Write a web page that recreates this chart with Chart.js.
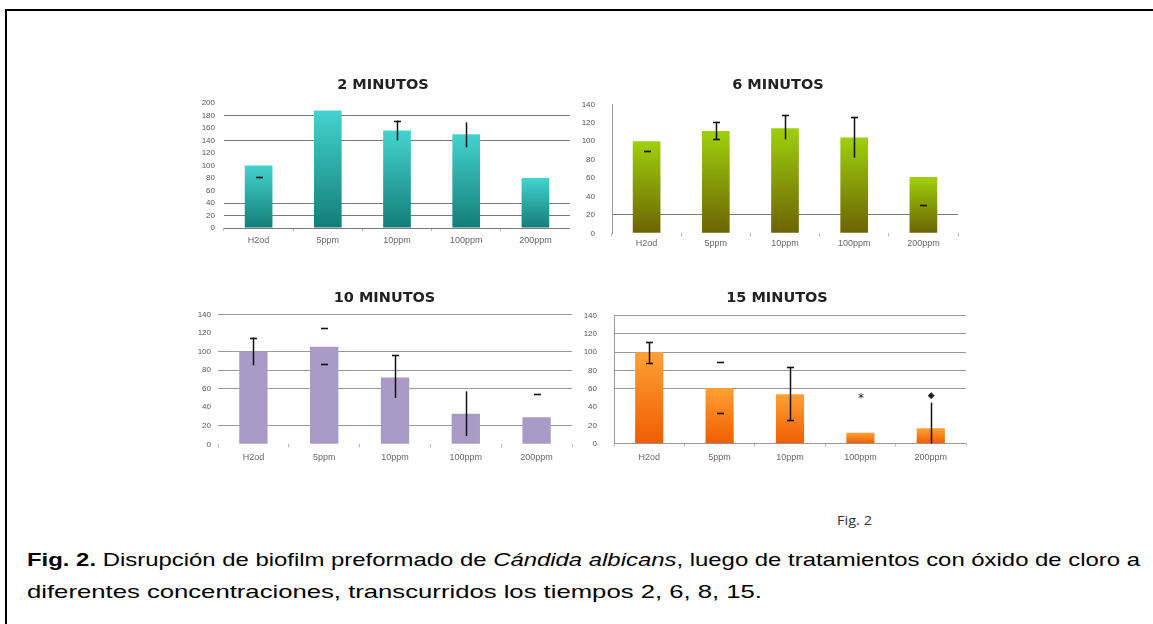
<!DOCTYPE html>
<html><head><meta charset="utf-8">
<script src="https://cdn.jsdelivr.net/npm/chart.js@4.4.1/dist/chart.umd.min.js"></script>
<style>
html,body{margin:0;padding:0;background:#fff;width:1153px;height:624px;overflow:hidden;position:relative;}
.frame{position:absolute;left:5px;top:9px;width:1150px;height:620px;border-top:2px solid #000;border-left:2px solid #000;}
canvas{position:absolute;}
#figlabel{position:absolute;left:837px;top:511px;font:13px 'Open Sans',sans-serif;color:#333;transform-origin:0 0;transform:scaleX(1.12);}
.cap{position:absolute;left:27px;transform-origin:0 0;font-family:'Liberation Sans',Arial,sans-serif;font-size:18.5px;line-height:32px;color:#000;white-space:nowrap;}
#line1{top:544px;}
#line2{top:576px;}
</style></head>
<body>
<div class="frame"></div>
<canvas id="c1" width="385" height="185" style="left:185px;top:70px"></canvas>
<canvas id="c2" width="406" height="190" style="left:570px;top:70px"></canvas>
<canvas id="c3" width="415" height="185" style="left:165px;top:285px"></canvas>
<canvas id="c4" width="405" height="185" style="left:580px;top:285px"></canvas>
<div id="figlabel">Fig. 2</div>
<div class="cap" id="line1"><b>Fig. 2.</b> Disrupción de biofilm preformado de <i>Cándida albicans</i>, luego de tratamientos con óxido de cloro a</div>
<div class="cap" id="line2">diferentes concentraciones, transcurridos los tiempos 2, 6, 8, 15.</div>
<script>
// ---------- DATA ----------
const categories = ['H2od', '5ppm', '10ppm', '100ppm', '200ppm'];
const titles = ['2 MINUTOS', '6 MINUTOS', '10 MINUTOS', '15 MINUTOS'];

const values2 = [100, 188, 156, 150, 80];
const errLow2 = [null, null, 140, 129, null];
const errHigh2 = [null, null, 172, 169, null];
const caps2 = [[82], [], [172], [], []];
const yTicks2 = [0, 20, 40, 60, 80, 100, 120, 140, 160, 180, 200];
const gridShown2 = [0, 20, 40, 140, 180];

const values6 = [100, 111, 114, 104, 61];
const errLow6 = [null, 102, 102, 82, null];
const errHigh6 = [null, 121, 128, 126, null];
const caps6 = [[89], [121, 102], [128], [126], [31]];
const yTicks6 = [0, 20, 40, 60, 80, 100, 120, 140];
const gridShown6 = [20];

const values10 = [100, 105, 72, 33, 29];
const errLow10 = [85, null, 50, 9, null];
const errHigh10 = [115, null, 96, 57, null];
const caps10 = [[115], [125, 86], [96], [], [54]];
const yTicks10 = [0, 20, 40, 60, 80, 100, 120, 140];
const gridShown10 = [20, 60, 80, 100, 140];

const values15 = [100, 61, 54, 12, 17];
const errLow15 = [88, null, 26, null, 0];
const errHigh15 = [111, null, 84, null, 45];
const caps15 = [[111, 88], [89, 34], [84, 26], [], []];
const markText15 = ['', '', '', '*', '◆'];
const markValue15 = [null, null, null, 51, 53];
const yTicks15 = [0, 20, 40, 60, 80, 100, 120, 140];
const gridShown15 = [0, 60, 80, 100, 120, 140];

// ---------- PLUGIN: error bars / marks ----------
const errPlugin = {
  id: 'errs',
  afterDatasetsDraw(chart, args, o) {
    const ctx = chart.ctx, xs = chart.scales.x, ys = chart.scales.y;
    ctx.save();
    ctx.strokeStyle = '#111';
    ctx.lineWidth = 1.5;
    (o.low || []).forEach((lo, i) => {
      const hi = o.high[i];
      if (lo == null || hi == null) return;
      const px = Math.round(xs.getPixelForValue(i)) + 0.5;
      ctx.beginPath();
      ctx.moveTo(px, ys.getPixelForValue(lo));
      ctx.lineTo(px, ys.getPixelForValue(hi));
      ctx.stroke();
    });
    ctx.lineWidth = 1.6;
    (o.caps || []).forEach((arr, i) => {
      const px = Math.round(xs.getPixelForValue(i)) + 0.5;
      arr.forEach(v => {
        const py = Math.round(ys.getPixelForValue(v)) + 0.5;
        ctx.beginPath();
        ctx.moveTo(px - 3.5, py);
        ctx.lineTo(px + 3.5, py);
        ctx.stroke();
      });
    });
    if (o.markText) {
      ctx.fillStyle = '#222';
      ctx.textAlign = 'center';
      ctx.textBaseline = 'middle';
      o.markText.forEach((t, i) => {
        if (!t) return;
        ctx.font = (t === '*' ? '12px' : '9px') + " 'DejaVu Sans'";
        ctx.fillText(t, xs.getPixelForValue(i) + 0.5, ys.getPixelForValue(o.markValue[i]) + (t === '*' ? 2 : 0));
      });
    }
    ctx.restore();
  }
};

function barGrad(topC, botC) {
  return (c) => {
    const ch = c.chart;
    if (c.type !== 'data' || !ch.chartArea || !ch.scales.y) return topC;
    const y = ch.scales.y;
    const y0 = y.getPixelForValue(0), y1 = y.getPixelForValue(c.raw);
    const g = ch.ctx.createLinearGradient(0, y1, 0, y0);
    g.addColorStop(0, topC);
    g.addColorStop(1, botC);
    return g;
  };
}

function makeChart(id, p) {
  const scales = {
    x: {
      grid: { display: true, drawOnChartArea: false, offset: true, tickLength: 3, color: '#bbb' },
      border: { display: false },
      ticks: { color: '#666', padding: p.xPad, font: { family: "'Liberation Sans'", size: 9 }, maxRotation: 0, autoSkip: false },
      afterFit: s => { s.height = p.xH; }
    },
    y: {
      min: 0, max: p.yTicks[p.yTicks.length - 1],
      afterBuildTicks: s => { s.ticks = p.yTicks.map(v => ({ value: v })); },
      grid: { drawTicks: false, color: c => (c.tick && p.gridShown.includes(c.tick.value)) ? p.gridColor : 'rgba(0,0,0,0)' },
      border: { display: p.yBorder, color: '#999' },
      ticks: { color: '#555', padding: p.yPad, autoSkip: false, font: { family: "'Liberation Sans'", size: 8 } },
      afterFit: s => { s.width = p.yW; }
    }
  };
  if (p.rightW) {
    scales.spacer = {
      type: 'linear', position: 'right', display: true,
      grid: { display: false }, border: { display: false }, ticks: { display: false },
      afterFit: s => { s.width = p.rightW; }
    };
  }
  return new Chart(document.getElementById(id), {
    type: 'bar',
    data: {
      labels: categories,
      datasets: [{ data: p.values, backgroundColor: p.color, borderWidth: 0,
        barPercentage: 0.4, categoryPercentage: 1 }]
    },
    options: {
      responsive: false, animation: false, devicePixelRatio: 1,
      layout: { padding: { left: p.padL, right: p.padR, top: 0, bottom: 0 } },
      plugins: {
        legend: { display: false }, tooltip: { enabled: false },
        title: { display: true, text: p.title, color: '#222',
          font: { family: "'DejaVu Sans'", size: 14.5, weight: 'bold', lineHeight: 1.2 },
          padding: { top: p.tTop, bottom: p.tBot } },
        errs: p.err
      },
      scales: scales
    },
    plugins: [errPlugin]
  });
}

makeChart('c1', { title: titles[0], values: values2, color: barGrad('#44d3cf', '#137d77'),
  padL: 11, padR: 0, tTop: 6.3, tBot: 9.3, xPad: 4, xH: 27, yW: 28, yPad: 9,
  yTicks: yTicks2, gridShown: gridShown2, gridColor: '#7a7a7a', yBorder: false,
  err: { low: errLow2, high: errHigh2, caps: caps2 } });

makeChart('c2', { title: titles[1], values: values6, color: barGrad('#9fd00c', '#6b6304'),
  padL: 11, padR: 1, rightW: 17, tTop: 6.3, tBot: 10.6, xPad: 2, xH: 26.7, yW: 31, yPad: 17,
  yTicks: yTicks6, gridShown: gridShown6, gridColor: '#7a7a7a', yBorder: true,
  err: { low: errLow6, high: errHigh6, caps: caps6 } });

makeChart('c3', { title: titles[2], values: values10, color: '#a99bc6',
  padL: 32, padR: 8, tTop: 4.3, tBot: 7.6, xPad: 5, xH: 25.7, yW: 21, yPad: 7,
  yTicks: yTicks10, gridShown: gridShown10, gridColor: '#999', yBorder: false,
  err: { low: errLow10, high: errHigh10, caps: caps10 } });

makeChart('c4', { title: titles[3], values: values15, color: barGrad('#ffa135', '#f05c02'),
  padL: 3, padR: 14, rightW: 5, tTop: 4.3, tBot: 9.0, xPad: 5, xH: 26.3, yW: 31, yPad: 17,
  yTicks: yTicks15, gridShown: gridShown15, gridColor: '#999', yBorder: true,
  err: { low: errLow15, high: errHigh15, caps: caps15, markText: markText15, markValue: markValue15 } });

// fit caption line widths to the reference
function fitLine(id, target) {
  const el = document.getElementById(id);
  const w = el.getBoundingClientRect().width;
  el.style.transform = 'scaleX(' + (target / w) + ')';
}
fitLine('line1', 1113);
fitLine('line2', 735);
</script>
</body></html>
